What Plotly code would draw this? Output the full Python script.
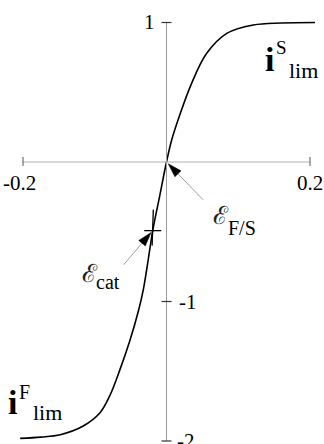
import math
import plotly.graph_objects as go

# Polarisation-type curve: normalised current vs. potential
pot = [-0.204, -0.175, -0.148, -0.116, -0.093, -0.079, -0.065, -0.051, -0.039,
       -0.0323, -0.0256, -0.0192, -0.0095, 0.0, 0.0072, 0.018, 0.035, 0.056,
       0.084, 0.121, 0.16, 0.207]
cur = [-1.981, -1.972, -1.955, -1.893, -1.800, -1.675, -1.49, -1.28, -1.065,
       -0.915, -0.705, -0.492, -0.244, 0.0, 0.158, 0.33, 0.564, 0.779,
       0.922, 0.982, 0.996, 1.0]

# Marked potentials
eps_cat = (-0.0192, -0.492)
eps_fs = (0.0, 0.0)

# Axis extents and tick labels
x_ticks = [-0.2, 0.2]
x_tick_text = ["-0.2", "0.2"]
y_ticks = [1, -1, -2]
y_tick_text = ["1", "-1", "-2"]

W, H = 324, 444
X0PX, Y0PX = 166.5, 162.0     # pixel position of the origin
SX, SY = 717.5, 139.5         # pixels per unit on x and y

xr = [(0 - X0PX) / SX, (W - X0PX) / SX]
yr = [(Y0PX - H) / SY, Y0PX / SY]


def to_px(x, y):
    return X0PX + SX * x, Y0PX - SY * y


def to_data(px, py):
    return (px - X0PX) / SX, (Y0PX - py) / SY


def dx(p):
    return p / SX


def dy(p):
    return p / SY


SERIF = "Liberation Serif, Times New Roman, serif"

fig = go.Figure()

fig.add_trace(go.Scatter(
    x=pot, y=cur, mode="lines",
    line=dict(color="black", width=1.6, shape="spline", smoothing=1.0),
    hoverinfo="skip", showlegend=False,
))

shapes = []
AX_GRAY = "#9a9a9a"
# axes
shapes.append(dict(type="line", xref="x", yref="y", x0=min(x_ticks), x1=max(x_ticks),
                   y0=0, y1=0, line=dict(color="#b0b0b0", width=1)))
shapes.append(dict(type="line", xref="x", yref="y", x0=0, x1=0,
                   y0=min(y_ticks), y1=max(y_ticks), line=dict(color=AX_GRAY, width=1)))
# tick marks
for t in x_ticks:
    shapes.append(dict(type="line", xref="x", yref="y", x0=t, x1=t,
                       y0=-dy(4), y1=dy(5), line=dict(color="#555", width=1)))
for t in y_ticks:
    shapes.append(dict(type="line", xref="x", yref="y", x0=-dx(5), x1=dx(5),
                       y0=t, y1=t, line=dict(color="#333", width=1.2)))

# cross at eps_cat
cx, cy = eps_cat
shapes.append(dict(type="line", xref="x", yref="y", x0=cx - dx(8.5), x1=cx + dx(8.5),
                   y0=cy, y1=cy, line=dict(color="black", width=1.3)))
shapes.append(dict(type="line", xref="x", yref="y", x0=cx + dx(0.6), x1=cx - dx(0.6),
                   y0=cy + dy(21), y1=cy - dy(15), line=dict(color="black", width=1.3)))


def arrow(point, tail_off, back=2.0, head_len=14.0, head_half=4.3):
    """Gray leader line with a filled black head ending at point."""
    px, py = to_px(*point)
    tx, ty = px + tail_off[0], py + tail_off[1]
    L = math.hypot(tail_off[0], tail_off[1])
    ux, uy = tail_off[0] / L, tail_off[1] / L
    tipx, tipy = px + ux * back, py + uy * back
    bx, by = tipx + ux * head_len, tipy + uy * head_len
    nx, ny = -uy, ux
    shapes.append(dict(type="line", xref="x", yref="y",
                       x0=to_data(bx, by)[0], y0=to_data(bx, by)[1],
                       x1=to_data(tx, ty)[0], y1=to_data(tx, ty)[1],
                       line=dict(color="#a0a0a0", width=1)))
    pts = [(tipx, tipy), (bx + nx * head_half, by + ny * head_half),
           (bx - nx * head_half, by - ny * head_half)]
    d = "M " + " L ".join("%f,%f" % to_data(a, b) for a, b in pts) + " Z"
    shapes.append(dict(type="path", xref="x", yref="y", path=d,
                       fillcolor="black", line=dict(color="black", width=0.5)))


arrow(eps_fs, (36.5, 37.7), back=2.5)
arrow(eps_cat, (-29, 34), back=2.5)

ann = []


def label(text, px, py, size, xanchor="left", bold=False, family=SERIF, color="black"):
    if bold:
        text = "<b>" + text + "</b>"
    ann.append(dict(text=text, xref="paper", yref="paper", x=px / W, y=1 - py / H,
                    xanchor=xanchor, yanchor="middle", showarrow=False,
                    font=dict(family=family, size=size, color=color)))


# tick labels
label(y_tick_text[0], 149.5, 21.5, 21, xanchor="center")
label(y_tick_text[1], 188, 301.5, 21, xanchor="center")
label(y_tick_text[2], 186, 441, 21, xanchor="center")
label(x_tick_text[0], 19.5, 183.5, 21, xanchor="center")
label(x_tick_text[1], 309.5, 182.5, 21, xanchor="center")

# limiting-current labels
label("i", 263, 60, 34, bold=True)
label("S", 274, 47, 19)
label("lim", 287, 70.5, 22)
label("i", 6, 402, 34, bold=True)
label("F", 17, 392, 20)
label("lim", 31, 412.5, 22)

# potential labels
label("ℰ", 211, 215, 25, color="#222")
label("F/S", 226, 228, 20)
label("ℰ", 80, 273, 25, color="#222")
label("cat", 93.5, 282, 20)

fig.update_layout(
    width=W, height=H, autosize=False,
    margin=dict(l=0, r=0, t=0, b=0),
    paper_bgcolor="white", plot_bgcolor="white",
    xaxis=dict(range=xr, visible=False, fixedrange=True),
    yaxis=dict(range=yr, visible=False, fixedrange=True),
    shapes=shapes, annotations=ann, showlegend=False,
)

fig.write_html("out.html")
